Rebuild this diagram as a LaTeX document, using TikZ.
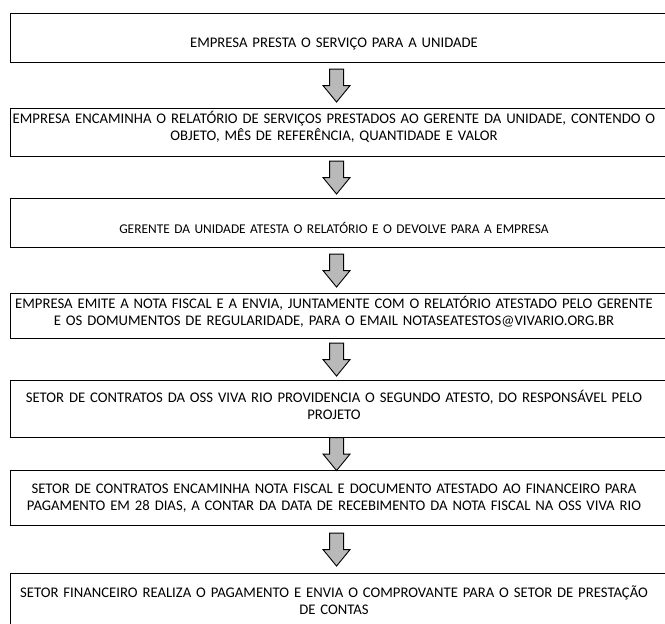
\documentclass[tikz,border=0pt]{standalone}
\usepackage{fontspec}
\setmainfont{Carlito}
\usetikzlibrary{calc}

\tikzset{
  caixa/.style={draw, line width=1.1pt, anchor=north west, minimum width=680pt, inner sep=0pt},
  etapa/.style={text width=664pt, align=center, inner sep=0pt,
    font=\fontsize{14.7}{17.5}\selectfont},
  setabloco/.pic={
    \draw[line width=0.9pt, fill=gray!55, line join=miter]
      (-7,16.5) -- (-7,0) -- (-13.5,0) -- (0,-16.5) -- (13.5,0) -- (7,0) -- (7,16.5) -- cycle;
  }
}

\begin{document}
\begin{tikzpicture}[x=1pt,y=1pt]
\useasboundingbox (0,0) rectangle (665,-624);
\clip (0,0) rectangle (665,-624);

% molduras
\node[caixa, minimum height=49pt] (c1) at (10,-13) {};
\node[caixa, minimum height=48pt] (c2) at (10,-108) {};
\node[caixa, minimum height=49pt] (c3) at (10,-198) {};
\node[caixa, minimum height=45pt] (c4) at (10,-293) {};
\node[caixa, minimum height=57pt] (c5) at (10,-380) {};
\node[caixa, minimum height=55pt] (c6) at (10,-470) {};
\node[caixa, minimum height=70pt] (c7) at (10,-573) {};

% textos
\node[etapa] (e1) at (334,-44) {EMPRESA PRESTA O SERVIÇO PARA A UNIDADE};
\node[etapa] (e2) at (334,-127) {EMPRESA ENCAMINHA O RELATÓRIO DE SERVIÇOS PRESTADOS AO GERENTE DA UNIDADE, CONTENDO O\\ OBJETO, MÊS DE REFERÊNCIA, QUANTIDADE E VALOR};
\node[etapa, font=\fontsize{13.4}{16}\selectfont] (e3) at (334,-228) {GERENTE DA UNIDADE ATESTA O RELATÓRIO E O DEVOLVE PARA A EMPRESA};
\node[etapa] (e4) at (334,-312) {EMPRESA EMITE A NOTA FISCAL E A ENVIA, JUNTAMENTE COM O RELATÓRIO ATESTADO PELO GERENTE\\ E OS DOMUMENTOS DE REGULARIDADE, PARA O EMAIL NOTASEATESTOS@VIVARIO.ORG.BR};
\node[etapa] (e5) at (334,-405) {SETOR DE CONTRATOS DA OSS VIVA RIO PROVIDENCIA O SEGUNDO ATESTO, DO RESPONSÁVEL PELO\\ PROJETO};
\node[etapa] (e6) at (334,-498) {SETOR DE CONTRATOS ENCAMINHA NOTA FISCAL E DOCUMENTO ATESTADO AO FINANCEIRO PARA\\ PAGAMENTO EM 28 DIAS, A CONTAR DA DATA DE RECEBIMENTO DA NOTA FISCAL NA OSS VIVA RIO};
\node[etapa] (e7) at (334,-600) {SETOR FINANCEIRO REALIZA O PAGAMENTO E ENVIA O COMPROVANTE PARA O SETOR DE PRESTAÇÃO\\ DE CONTAS};

% setas
\foreach \a/\b in {c1/c2, c2/c3, c3/c4, c4/c5, c5/c6, c6/c7}
  \pic (s-\a) at ([xshift=-14pt]$(\a.south)!.5!(\b.north)$) {setabloco};
\end{tikzpicture}
\end{document}
